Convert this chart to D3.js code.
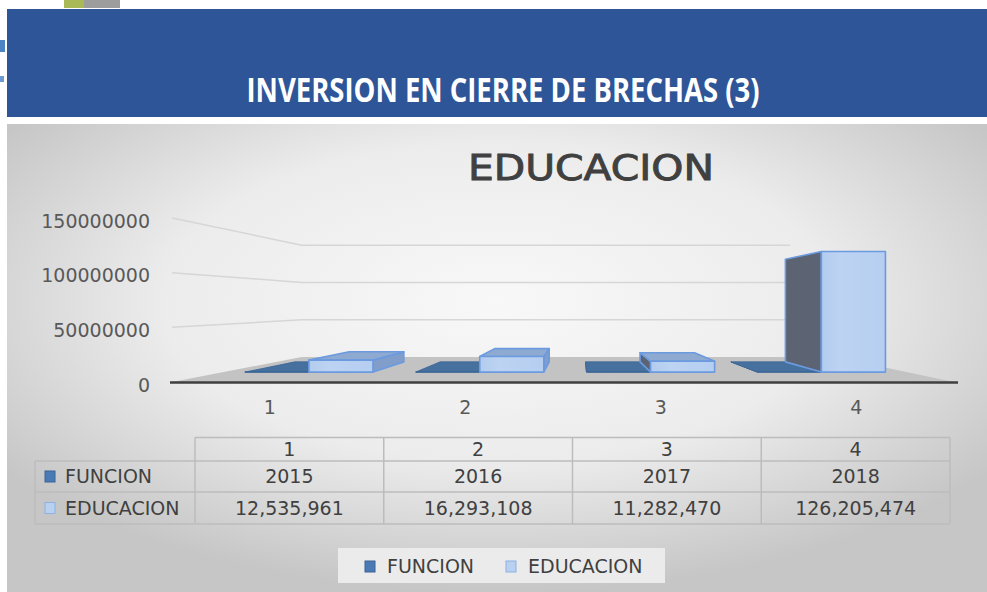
<!DOCTYPE html>
<html>
<head>
<meta charset="utf-8">
<script src="https://cdn.jsdelivr.net/npm/d3@7/dist/d3.min.js"></script>
<style>
	html, body { margin: 0; padding: 0; background: #fff; }
	svg { display: block; }
	text { font-family: 'DejaVu Sans', Verdana, sans-serif; }
</style>
</head>
<body>
<svg id="chart" width="987" height="592"></svg>
<script>
// chart data
const categories = ['1', '2', '3', '4'];
const series = ['FUNCION', 'EDUCACION'];
const funcion = [2015, 2016, 2017, 2018];
const educacion = [12535961, 16293108, 11282470, 126205474];
const yTicks = [0, 50000000, 100000000, 150000000];

const svg = d3.select('#chart');
const defs = svg.append('defs');

let bg = defs.append('radialGradient').attr('id', 'bg')
	.attr('cx', '50%').attr('cy', '38%').attr('r', '62%');
bg.append('stop').attr('offset', '0').attr('stop-color', '#f8f8f8');
bg.append('stop').attr('offset', '0.55').attr('stop-color', '#ececec');
bg.append('stop').attr('offset', '1').attr('stop-color', '#c6c6c6');

let frontGrad = defs.append('linearGradient').attr('id', 'eduFront')
	.attr('x1', '0').attr('x2', '1').attr('y1', '0').attr('y2', '0');
frontGrad.append('stop').attr('offset', '0').attr('stop-color', '#b3ccee');
frontGrad.append('stop').attr('offset', '0.3').attr('stop-color', '#bcd3f2');
frontGrad.append('stop').attr('offset', '1').attr('stop-color', '#b6cef0');

// top remnants + header banner
svg.append('rect').attr('x', 64).attr('y', 0).attr('width', 20).attr('height', 8).attr('fill', '#a9b955');
svg.append('rect').attr('x', 84).attr('y', 0).attr('width', 36).attr('height', 8).attr('fill', '#9d9d9d');
svg.append('rect').attr('x', 0).attr('y', 40).attr('width', 5).attr('height', 12).attr('fill', '#4d84c4');
svg.append('rect').attr('x', 0).attr('y', 76).attr('width', 4).attr('height', 6).attr('fill', '#6d9ad0');

svg.append('rect').attr('x', 7).attr('y', 9).attr('width', 980).attr('height', 108).attr('fill', '#2e5597');
svg.append('text')
	.attr('x', 503).attr('y', 102)
	.attr('text-anchor', 'middle')
	.attr('fill', '#ffffff')
	.style('font-family', "'Liberation Sans Narrow', 'Open Sans', sans-serif")
	.style('font-weight', 'bold')
	.style('font-size', '34px')
	.attr('textLength', 513).attr('lengthAdjust', 'spacingAndGlyphs')
	.text('INVERSION EN CIERRE DE BRECHAS (3)');

// chart area
svg.append('rect').attr('x', 7).attr('y', 124).attr('width', 980).attr('height', 468).attr('fill', 'url(#bg)');

svg.append('text')
	.attr('x', 591).attr('y', 180)
	.attr('text-anchor', 'middle')
	.attr('fill', '#404040')
	.attr('stroke', '#404040').attr('stroke-width', 0.9)
	.style('font-size', '35px')
	.attr('textLength', 246).attr('lengthAdjust', 'spacingAndGlyphs')
	.text('EDUCACION');

// 3d projection: front plane coordinates, depth z (1 = front of floor)
const VX = 580;
const VY = 303.5;
const zScale = d3.scaleLinear().domain([0, 1]).range([1, 1.466]);
const proj = (x, y, z) => [VX + (x - VX) / z, VY + (y - VY) / z];
const poly = (pts) => pts.map((p) => p[0].toFixed(2) + ',' + p[1].toFixed(2)).join(' ');

const x0 = d3.scaleBand().domain(categories).range([172, 954]);
const x1 = d3.scaleBand().domain(series).range([x0.bandwidth() * 0.125, x0.bandwidth() * 0.875]);
const y = d3.scaleLinear().domain([0, 150000000]).range([382, 218]);

const zF = zScale(0);
const zB = zScale(1);
const wallL = x0.range()[0];
const wallR = x0.range()[1];
const backR = 888;

let plot = svg.append('g');

// floor
plot.append('polygon')
	.attr('points', poly([proj(wallL, y(0), zF), proj(wallR, y(0), zF), proj(wallR, y(0), zB), proj(wallL, y(0), zB)]))
	.attr('fill', '#c3c3c3');

// gridlines on side and back wall
plot.selectAll('.grid')
	.data(yTicks.filter((d) => d > 0))
	.enter().append('polyline')
	.attr('class', 'grid')
	.attr('points', (d) => poly([proj(wallL, y(d), zF), proj(wallL, y(d), zB), proj(backR, y(d), zB)]))
	.attr('fill', 'none')
	.attr('stroke', '#d6d6d6')
	.attr('stroke-width', 1.5);

// front axis line
plot.append('line')
	.attr('x1', wallL - 2).attr('x2', wallR + 4)
	.attr('y1', y(0) + 0.5).attr('y2', y(0) + 0.5)
	.attr('stroke', '#3f3f3f').attr('stroke-width', 2.5);

// y tick labels
plot.selectAll('.ytick')
	.data(yTicks)
	.enter().append('text')
	.attr('class', 'ytick')
	.attr('x', 150)
	.attr('y', (d) => y(d) + 3)
	.attr('dy', '0.35em')
	.attr('text-anchor', 'end')
	.attr('fill', '#595959')
	.style('font-size', '19px')
	.text((d) => d);

// category labels
plot.selectAll('.xtick')
	.data(categories)
	.enter().append('text')
	.attr('class', 'xtick')
	.attr('x', (d) => x0(d) + x0.bandwidth() / 2)
	.attr('y', 407)
	.attr('dy', '0.35em')
	.attr('text-anchor', 'middle')
	.attr('fill', '#595959')
	.style('font-size', '19px')
	.text((d) => d);

const styles = {
	FUNCION: { front: '#3e6799', top: '#46719f', right: '#3b5f8c', left: '#3b5f8c', stroke: '#3a6496' },
	EDUCACION: { front: 'url(#eduFront)', top: '#8eaad0', right: '#809ec9', left: '#5c6474', stroke: '#6b9ae0' }
};

const bars = [];
categories.forEach((c, i) => {
	bars.push({ cat: c, s: 'FUNCION', v: funcion[i] });
	bars.push({ cat: c, s: 'EDUCACION', v: educacion[i] });
});

const dFront = zScale(0.31);
const dBack = zScale(0.74);

let barG = plot.selectAll('.bar')
	.data(bars)
	.enter().append('g')
	.attr('class', 'bar');

barG.each(function (d) {
	let g = d3.select(this);
	let st = styles[d.s];
	let X0 = x0(d.cat) + x1(d.s);
	let X1 = X0 + x1.bandwidth();
	let Yb = y(0);
	let Yt = y(d.v);
	let faces = [];
	if (X1 < VX) {
		faces.push({ pts: [proj(X1, Yb, dFront), proj(X1, Yb, dBack), proj(X1, Yt, dBack), proj(X1, Yt, dFront)], fill: st.right });
	}
	if (X0 > VX) {
		faces.push({ pts: [proj(X0, Yb, dFront), proj(X0, Yb, dBack), proj(X0, Yt, dBack), proj(X0, Yt, dFront)], fill: st.left });
	}
	if (Yt > VY) {
		faces.push({ pts: [proj(X0, Yt, dFront), proj(X1, Yt, dFront), proj(X1, Yt, dBack), proj(X0, Yt, dBack)], fill: st.top });
	}
	faces.push({ pts: [proj(X0, Yb, dFront), proj(X1, Yb, dFront), proj(X1, Yt, dFront), proj(X0, Yt, dFront)], fill: st.front });
	g.selectAll('polygon')
		.data(faces)
		.enter().append('polygon')
		.attr('points', (f) => poly(f.pts))
		.attr('fill', (f) => f.fill)
		.attr('stroke', st.stroke)
		.attr('stroke-width', d.s === 'EDUCACION' ? 1.6 : 0.8)
		.attr('stroke-linejoin', 'round');
});

// data table
const tx = d3.scaleBand().domain(categories).range([195, 950]);
const rowY = [437.5, 461, 492, 524];
const tableRows = [
	{ name: 'FUNCION', vals: funcion.map((d) => String(d)) },
	{ name: 'EDUCACION', vals: educacion.map(d3.format(',')) }
];
const keyColors = {
	FUNCION: { fill: '#4a7ab6', stroke: '#3a6396' },
	EDUCACION: { fill: '#b9d1f1', stroke: '#8fb0e0' }
};

let table = svg.append('g').attr('fill', 'none').attr('stroke', '#bcbcbc').attr('stroke-width', 1.5);
table.append('line').attr('x1', tx.range()[0]).attr('x2', tx.range()[1]).attr('y1', rowY[0]).attr('y2', rowY[0]);
table.append('line').attr('x1', 35).attr('x2', tx.range()[1]).attr('y1', rowY[1]).attr('y2', rowY[1]);
table.append('line').attr('x1', 35).attr('x2', tx.range()[1]).attr('y1', rowY[2]).attr('y2', rowY[2]);
table.append('line').attr('x1', 35).attr('x2', tx.range()[1]).attr('y1', rowY[3]).attr('y2', rowY[3]);
table.append('line').attr('x1', 35).attr('x2', 35).attr('y1', rowY[1]).attr('y2', rowY[3]);
categories.concat(['end']).forEach((c) => {
	let xx = c === 'end' ? tx.range()[1] : tx(c);
	table.append('line').attr('x1', xx).attr('x2', xx).attr('y1', rowY[0]).attr('y2', rowY[3]);
});

let tText = svg.append('g').attr('fill', '#404040').style('font-size', '19px').attr('text-anchor', 'middle');
categories.forEach((c) => {
	tText.append('text')
		.attr('x', tx(c) + tx.bandwidth() / 2)
		.attr('y', (rowY[0] + rowY[1]) / 2)
		.attr('dy', '0.35em')
		.text(c);
});
tableRows.forEach((r, i) => {
	let cy = (rowY[i + 1] + rowY[i + 2]) / 2;
	r.vals.forEach((v, j) => {
		tText.append('text')
			.attr('x', tx(categories[j]) + tx.bandwidth() / 2)
			.attr('y', cy)
			.attr('dy', '0.35em')
			.text(v);
	});
	svg.append('rect')
		.attr('x', 45).attr('y', cy - 5.5).attr('width', 10).attr('height', 11)
		.attr('fill', keyColors[r.name].fill).attr('stroke', keyColors[r.name].stroke);
	svg.append('text')
		.attr('x', 65).attr('y', cy).attr('dy', '0.35em')
		.attr('fill', '#404040').style('font-size', '19px')
		.text(r.name);
});

// legend
svg.append('rect').attr('x', 338).attr('y', 548).attr('width', 327).attr('height', 35).attr('fill', '#ebebeb');
const legendX = { FUNCION: 365, EDUCACION: 506 };
series.forEach((s) => {
	svg.append('rect')
		.attr('x', legendX[s]).attr('y', 561).attr('width', 10).attr('height', 11)
		.attr('fill', keyColors[s].fill).attr('stroke', keyColors[s].stroke);
	svg.append('text')
		.attr('x', legendX[s] + 22).attr('y', 566).attr('dy', '0.35em')
		.attr('fill', '#404040').style('font-size', '19px')
		.text(s);
});
</script>
</body>
</html>
